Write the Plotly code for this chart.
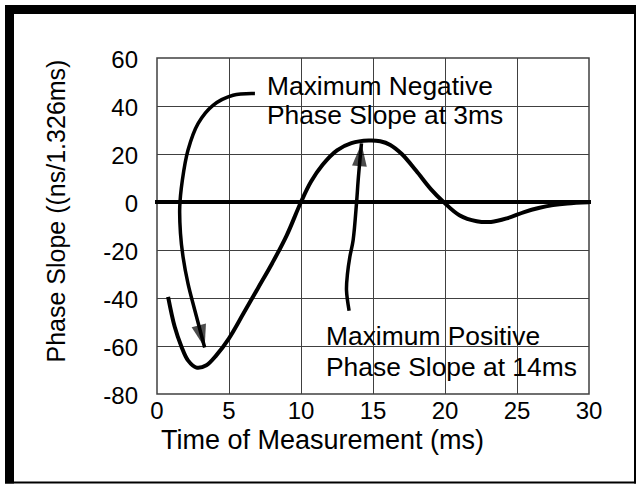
import plotly.graph_objects as go

# Main phase-slope curve
curve_x = [0.77, 1.23, 1.7, 2.15, 2.74, 3.43, 4.13, 5.0, 6.0, 7.0, 8.0, 9.0, 10.0,
           10.7, 11.5, 12.5, 13.5, 14.7, 15.5, 16.2, 17.0, 18.0, 19.0, 19.9, 21.0, 22.2,
           23.2, 24.3, 25.5, 26.5, 27.5, 28.5, 30.0]
curve_y = [-39.5, -52, -60.3, -66, -69, -68, -63.8, -56.8, -46.5, -36, -25.5, -14, 0,
           8.5, 15.5, 21.5, 24.5, 25.6, 25.3, 23.8, 20, 13, 5.5, 0, -5.5, -8,
           -8.3, -6.8, -4.2, -2.5, -1.3, -0.6, -0.1]

# Callout arrow paths
neg_arrow_x = [6.8, 5.28, 3.89, 2.85, 2.15, 1.76, 1.58, 1.63, 1.81, 2.15, 2.62, 3.31]
neg_arrow_y = [45.2, 44.5, 40.3, 32.7, 21.6, 9.1, -2, -13.1, -22.9, -33.9, -45, -60.6]
pos_arrow_x = [13.34, 13.16, 13.23, 13.39, 13.62, 13.86, 13.97, 14.2]
pos_arrow_y = [-45.3, -36.7, -29.8, -22.9, -15.9, -0.1, 9.1, 24.4]

x_ticks = [0, 5, 10, 15, 20, 25, 30]
y_ticks = [-80, -60, -40, -20, 0, 20, 40, 60]

neg_label = ["Maximum Negative", "Phase Slope at 3ms"]
pos_label = ["Maximum Positive", "Phase Slope at 14ms"]
x_title = "Time of Measurement (ms)"
y_title = "Phase Slope ((ns/1.326ms)"

FONT = "Liberation Sans, Arial, Helvetica, sans-serif"
W, H = 637, 484
L, R, T, B = 157, 48, 58, 90
PW, PH = W - L - R, H - T - B
GRID = "#404040"


def px(xp):
    return (xp - L) / PW


def py(yp):
    return (H - B - yp) / PH


fig = go.Figure()

fig.add_trace(go.Scatter(x=curve_x, y=curve_y, mode="lines",
                         line=dict(color="black", width=4, shape="spline", smoothing=1),
                         hoverinfo="skip", showlegend=False))


def arrow_trace(xs, ys):
    n = len(xs)
    return go.Scatter(
        x=xs, y=ys, mode="lines+markers",
        line=dict(color="black", width=3.5, shape="spline", smoothing=1),
        marker=dict(symbol=["circle"] * (n - 1) + ["arrow"],
                    size=[0] * (n - 1) + [24],
                    angleref="previous", color="black",
                    line=dict(width=0)),
        hoverinfo="skip", showlegend=False, cliponaxis=False)


fig.add_trace(arrow_trace(neg_arrow_x, neg_arrow_y))
fig.add_trace(arrow_trace(pos_arrow_x, pos_arrow_y))

shapes = [
    # plot frame
    dict(type="rect", xref="paper", yref="paper", x0=0, x1=1, y0=0, y1=1,
         line=dict(color=GRID, width=1.5), layer="below"),
    # thick zero line
    dict(type="line", xref="paper", yref="y", x0=px(155), x1=px(591), y0=0, y1=0,
         line=dict(color="black", width=4), layer="above"),
    # outer frame (heavy top/left, thin right/bottom)
    dict(type="rect", xref="paper", yref="paper", x0=px(5), x1=px(636), y0=py(5), y1=py(14),
         fillcolor="black", line=dict(width=0)),
    dict(type="rect", xref="paper", yref="paper", x0=px(5), x1=px(14), y0=py(5), y1=py(483.5),
         fillcolor="black", line=dict(width=0)),
    dict(type="rect", xref="paper", yref="paper", x0=px(634), x1=px(636), y0=py(5), y1=py(483.5),
         fillcolor="black", line=dict(width=0)),
    dict(type="rect", xref="paper", yref="paper", x0=px(5), x1=px(636), y0=py(481.5), y1=py(483.5),
         fillcolor="black", line=dict(width=0)),
]

ann_font = dict(family=FONT, size=26.4, color="black")
annotations = []
for text, ypix in zip(neg_label, [85.8, 115.0]):
    annotations.append(dict(x=px(265), y=py(ypix), xref="paper", yref="paper", text=text,
                            showarrow=False, xanchor="left", yanchor="middle", font=ann_font))
for text, ypix in zip(pos_label, [335.5, 367.2]):
    annotations.append(dict(x=px(324), y=py(ypix), xref="paper", yref="paper", text=text,
                            showarrow=False, xanchor="left", yanchor="middle", font=ann_font))
annotations += [
    dict(x=px(322.7), y=py(440), xref="paper", yref="paper", text=x_title, showarrow=False,
         xanchor="center", yanchor="middle",
         font=dict(family=FONT, size=27, color="black")),
    dict(x=px(55.5), y=py(211), xref="paper", yref="paper", text=y_title, showarrow=False,
         xanchor="center", yanchor="middle", textangle=-90,
         font=dict(family=FONT, size=25, color="black")),
]

fig.update_layout(
    width=W, height=H,
    margin=dict(l=L, r=R, t=T, b=B, pad=0),
    paper_bgcolor="white", plot_bgcolor="white",
    font=dict(family=FONT, size=24, color="black"),
    shapes=shapes, annotations=annotations,
    showlegend=False,
)
fig.update_xaxes(range=[0, 30], tickvals=x_ticks, ticktext=[str(v) for v in x_ticks],
                 showgrid=True, gridcolor=GRID, gridwidth=1,
                 showline=False,
                 zeroline=False, ticks="", ticklabelstandoff=0,
                 tickfont=dict(family=FONT, size=24, color="black"), fixedrange=True)
fig.update_yaxes(range=[-80, 60], tickvals=y_ticks, ticktext=[str(v) for v in y_ticks],
                 showgrid=True, gridcolor=GRID, gridwidth=1,
                 showline=False,
                 zeroline=False, ticks="", ticklabelstandoff=18, ticklabelshift=2,
                 tickfont=dict(family=FONT, size=24, color="black"), fixedrange=True)

fig.write_html("out.html", config={"displayModeBar": False},
               post_script="document.body.style.margin='0px';document.body.style.overflow='hidden';")
